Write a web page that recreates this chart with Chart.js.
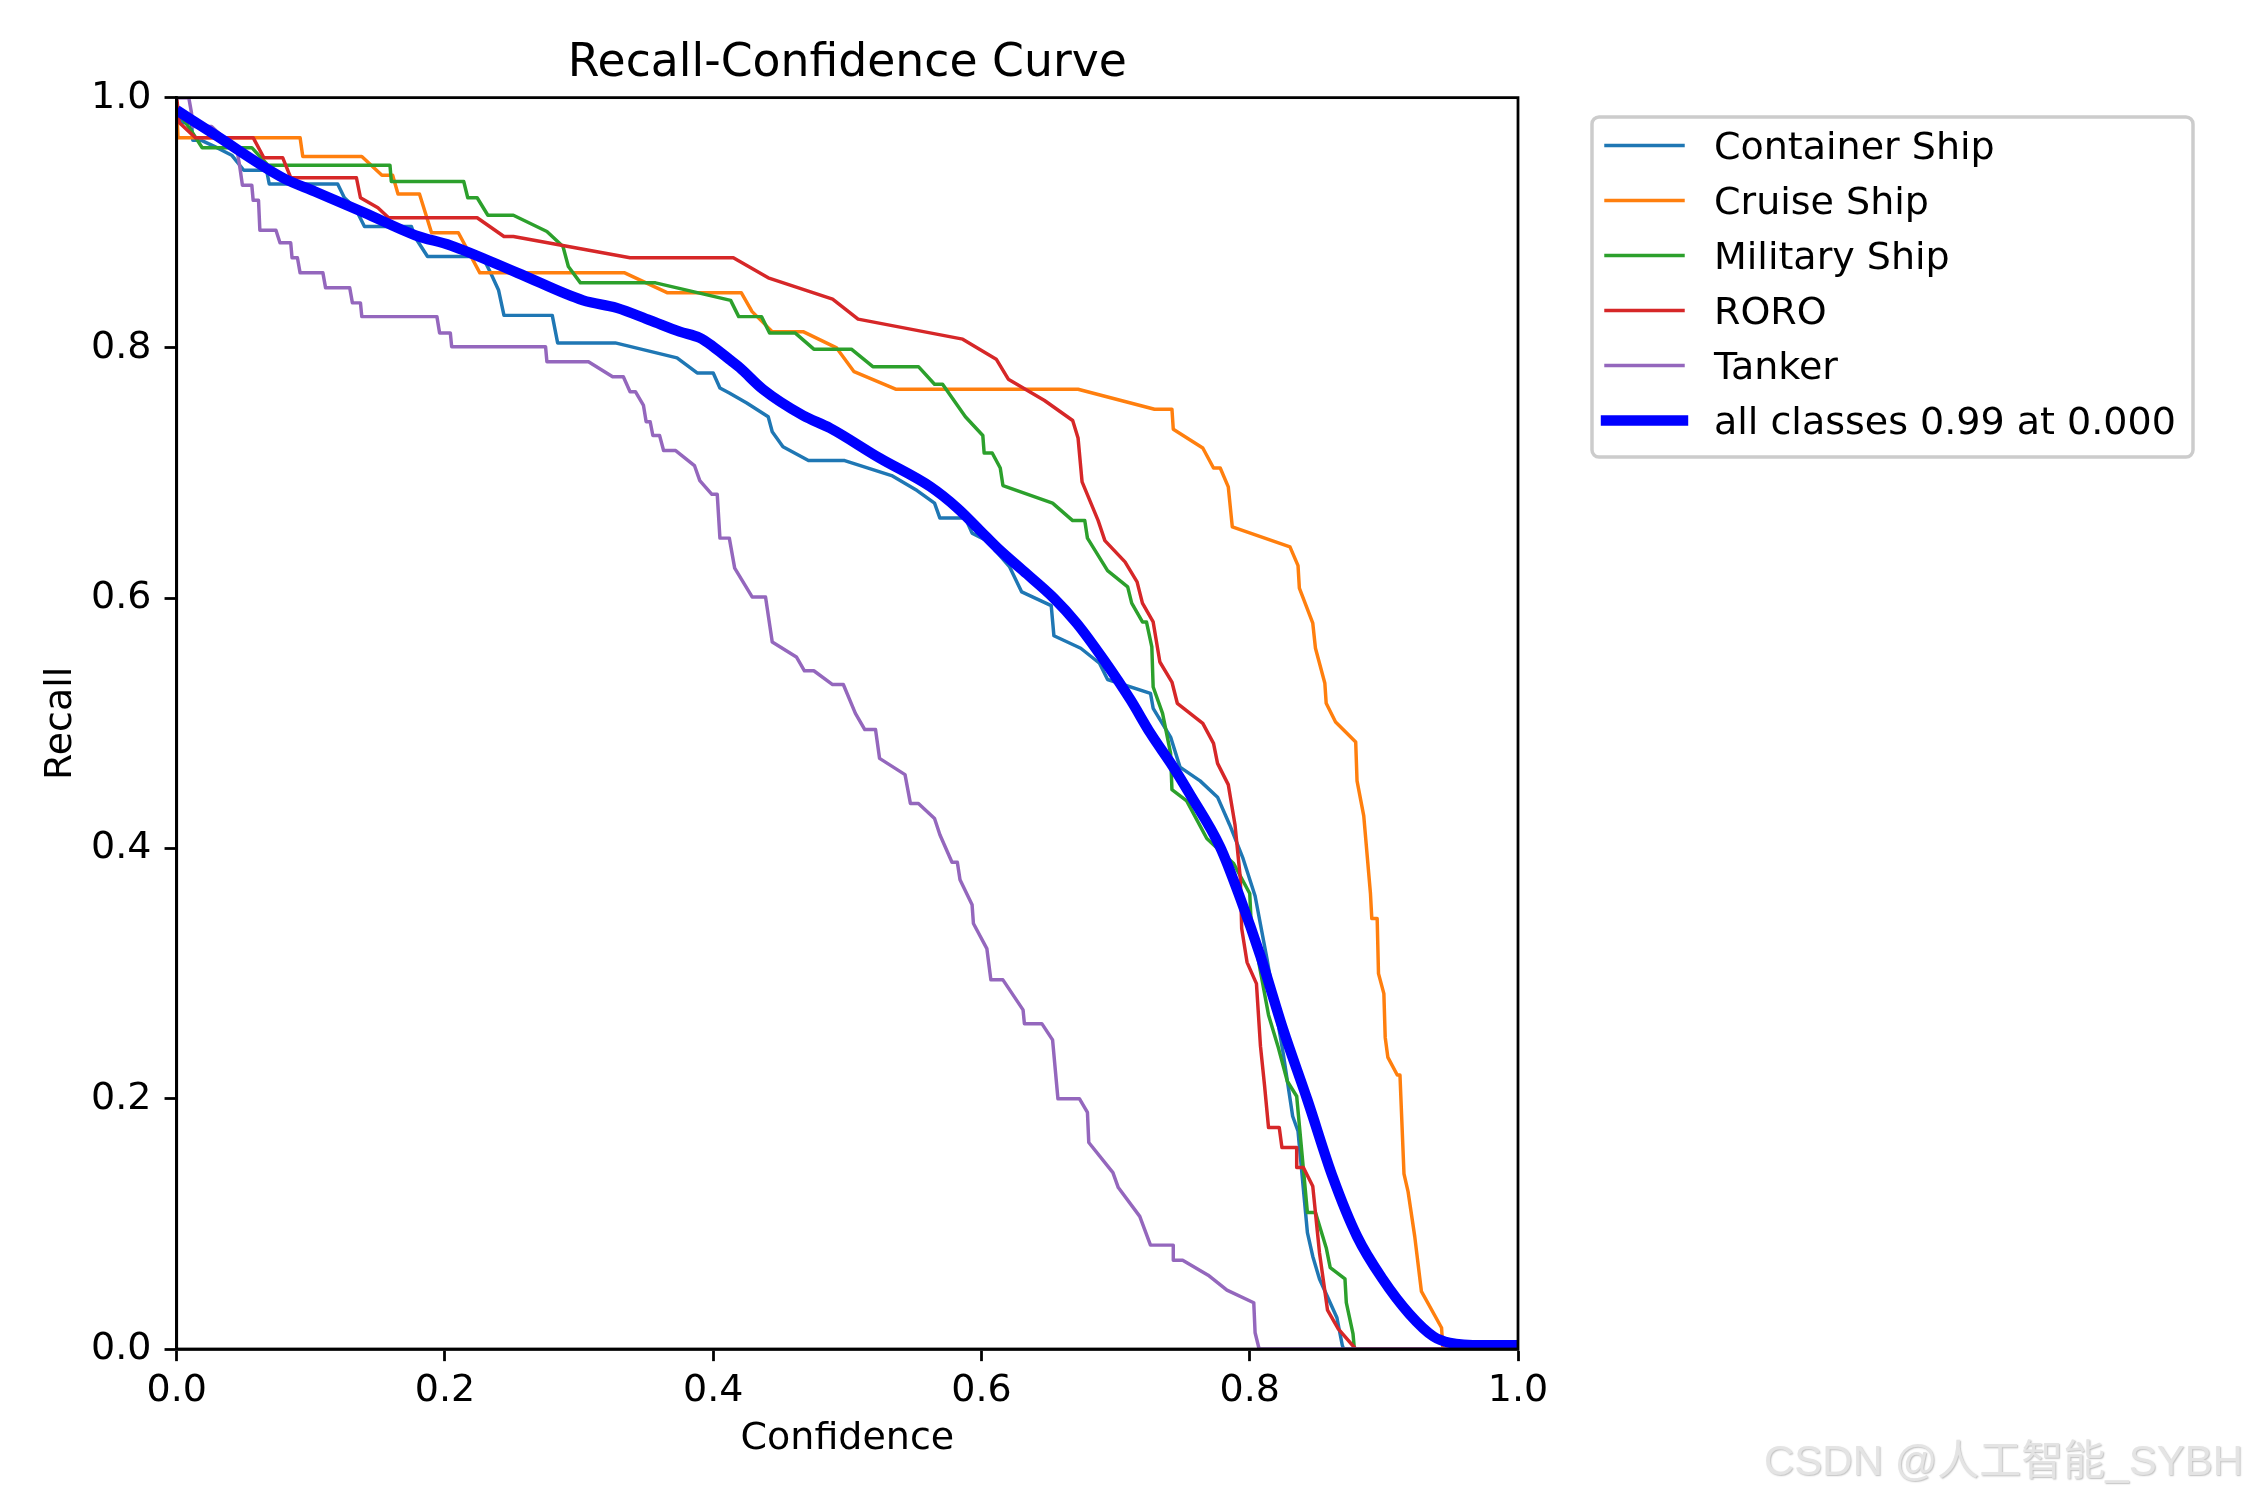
<!DOCTYPE html>
<html>
<head>
<meta charset="utf-8">
<title>Recall-Confidence Curve</title>
<script src="https://cdn.jsdelivr.net/npm/chart.js@4.4.1/dist/chart.umd.min.js"></script>
<style>
  html, body { margin: 0; padding: 0; background: #fff; }
  canvas { display: block; }
</style>
</head>
<body>
<canvas id="rcChart" width="2250" height="1500"></canvas>
<script>
// curves as [confidence, recall] pairs
const containerShip = [[0,0.99],[0.004,0.98],[0.011,0.98],[0.012,0.966],[0.018,0.966],[0.03,0.96],[0.041,0.954],[0.05,0.942],[0.067,0.942],[0.069,0.931],[0.12,0.931],[0.125,0.92],[0.133,0.912],[0.14,0.897],[0.175,0.897],[0.178,0.888],[0.187,0.873],[0.228,0.873],[0.234,0.86],[0.24,0.846],[0.244,0.826],[0.28,0.826],[0.284,0.804],[0.327,0.804],[0.373,0.792],[0.388,0.78],[0.4,0.78],[0.405,0.768],[0.412,0.764],[0.425,0.756],[0.441,0.745],[0.444,0.733],[0.452,0.721],[0.471,0.71],[0.498,0.71],[0.533,0.698],[0.552,0.686],[0.565,0.676],[0.569,0.664],[0.588,0.664],[0.593,0.652],[0.604,0.646],[0.621,0.625],[0.63,0.605],[0.652,0.594],[0.654,0.57],[0.674,0.56],[0.688,0.548],[0.694,0.535],[0.726,0.524],[0.728,0.512],[0.741,0.489],[0.748,0.465],[0.763,0.454],[0.776,0.441],[0.785,0.419],[0.795,0.392],[0.804,0.362],[0.813,0.311],[0.825,0.236],[0.832,0.186],[0.836,0.174],[0.843,0.093],[0.847,0.074],[0.852,0.056],[0.865,0.025],[0.869,0.003],[0.87,0],[1,0]];

const cruiseShip = [[0,0.99],[0.001,0.968],[0.092,0.968],[0.094,0.953],[0.138,0.953],[0.153,0.938],[0.161,0.938],[0.165,0.923],[0.181,0.923],[0.19,0.892],[0.21,0.892],[0.226,0.86],[0.334,0.86],[0.366,0.844],[0.421,0.844],[0.429,0.829],[0.444,0.813],[0.467,0.813],[0.492,0.8],[0.505,0.781],[0.536,0.767],[0.672,0.767],[0.729,0.751],[0.742,0.751],[0.743,0.735],[0.765,0.72],[0.773,0.704],[0.778,0.704],[0.784,0.689],[0.787,0.657],[0.83,0.641],[0.836,0.626],[0.837,0.608],[0.847,0.58],[0.849,0.56],[0.856,0.532],[0.857,0.516],[0.864,0.501],[0.879,0.485],[0.88,0.454],[0.885,0.426],[0.89,0.364],[0.891,0.344],[0.895,0.344],[0.896,0.3],[0.9,0.284],[0.901,0.249],[0.903,0.233],[0.91,0.219],[0.912,0.219],[0.915,0.14],[0.918,0.126],[0.923,0.09],[0.928,0.046],[0.943,0.017],[0.944,0],[1,0]];

const militaryShip = [[0,0.99],[0.01,0.975],[0.019,0.96],[0.056,0.96],[0.068,0.946],[0.159,0.946],[0.16,0.933],[0.214,0.933],[0.217,0.92],[0.224,0.92],[0.232,0.906],[0.251,0.906],[0.276,0.893],[0.288,0.881],[0.292,0.865],[0.301,0.852],[0.357,0.852],[0.413,0.838],[0.419,0.825],[0.436,0.825],[0.442,0.812],[0.461,0.812],[0.475,0.799],[0.503,0.799],[0.519,0.785],[0.553,0.785],[0.565,0.771],[0.571,0.771],[0.588,0.745],[0.601,0.73],[0.602,0.716],[0.608,0.716],[0.614,0.704],[0.616,0.69],[0.653,0.676],[0.668,0.662],[0.677,0.662],[0.679,0.648],[0.694,0.622],[0.709,0.609],[0.712,0.596],[0.72,0.581],[0.723,0.581],[0.727,0.561],[0.728,0.529],[0.735,0.508],[0.741,0.476],[0.742,0.447],[0.753,0.438],[0.768,0.408],[0.773,0.403],[0.788,0.388],[0.8,0.364],[0.801,0.342],[0.814,0.267],[0.821,0.242],[0.828,0.214],[0.835,0.202],[0.843,0.109],[0.849,0.109],[0.857,0.081],[0.86,0.065],[0.871,0.056],[0.872,0.037],[0.877,0.012],[0.878,0],[1,0]];

const roro = [[0,1],[0.002,0.98],[0.014,0.968],[0.057,0.968],[0.065,0.952],[0.079,0.952],[0.085,0.936],[0.134,0.936],[0.137,0.92],[0.15,0.912],[0.158,0.904],[0.224,0.904],[0.244,0.889],[0.251,0.889],[0.338,0.872],[0.415,0.872],[0.441,0.856],[0.489,0.839],[0.508,0.823],[0.586,0.807],[0.611,0.791],[0.62,0.775],[0.647,0.758],[0.668,0.742],[0.672,0.728],[0.675,0.693],[0.687,0.662],[0.692,0.646],[0.707,0.629],[0.716,0.613],[0.72,0.596],[0.728,0.581],[0.733,0.549],[0.742,0.533],[0.746,0.516],[0.765,0.5],[0.773,0.484],[0.776,0.468],[0.784,0.451],[0.789,0.419],[0.793,0.376],[0.794,0.336],[0.798,0.309],[0.805,0.292],[0.808,0.242],[0.811,0.211],[0.814,0.177],[0.822,0.177],[0.824,0.161],[0.835,0.161],[0.835,0.145],[0.84,0.145],[0.847,0.13],[0.852,0.077],[0.858,0.031],[0.866,0.016],[0.879,0],[1,0]];

const tanker = [[0,1],[0.009,1],[0.011,0.988],[0.012,0.977],[0.026,0.977],[0.045,0.958],[0.047,0.945],[0.049,0.93],[0.056,0.93],[0.057,0.918],[0.061,0.918],[0.062,0.894],[0.074,0.894],[0.077,0.884],[0.085,0.884],[0.086,0.872],[0.09,0.872],[0.092,0.86],[0.109,0.86],[0.111,0.848],[0.129,0.848],[0.131,0.836],[0.137,0.836],[0.138,0.825],[0.194,0.825],[0.196,0.812],[0.204,0.812],[0.205,0.801],[0.275,0.801],[0.276,0.789],[0.307,0.789],[0.325,0.777],[0.333,0.777],[0.338,0.765],[0.342,0.765],[0.348,0.754],[0.35,0.741],[0.353,0.741],[0.355,0.73],[0.36,0.73],[0.363,0.718],[0.372,0.718],[0.386,0.706],[0.39,0.694],[0.399,0.683],[0.403,0.683],[0.405,0.648],[0.412,0.648],[0.416,0.624],[0.429,0.601],[0.439,0.601],[0.444,0.565],[0.462,0.553],[0.468,0.542],[0.475,0.542],[0.489,0.531],[0.497,0.531],[0.506,0.508],[0.513,0.495],[0.521,0.495],[0.524,0.472],[0.543,0.459],[0.547,0.436],[0.553,0.436],[0.565,0.424],[0.569,0.411],[0.578,0.389],[0.582,0.389],[0.584,0.375],[0.593,0.355],[0.594,0.34],[0.604,0.32],[0.607,0.295],[0.616,0.295],[0.631,0.271],[0.632,0.26],[0.645,0.26],[0.653,0.247],[0.657,0.2],[0.673,0.2],[0.679,0.189],[0.68,0.165],[0.698,0.141],[0.702,0.129],[0.718,0.106],[0.726,0.083],[0.743,0.083],[0.743,0.071],[0.75,0.071],[0.769,0.059],[0.783,0.047],[0.803,0.037],[0.804,0.013],[0.807,0],[1,0]];

const allClasses = [[0,0.99],[0.029,0.97],[0.079,0.936],[0.103,0.925],[0.14,0.908],[0.178,0.89],[0.204,0.882],[0.254,0.86],[0.303,0.838],[0.328,0.832],[0.353,0.822],[0.375,0.813],[0.39,0.808],[0.4,0.801],[0.413,0.79],[0.42,0.784],[0.437,0.767],[0.467,0.746],[0.487,0.736],[0.524,0.712],[0.562,0.689],[0.582,0.672],[0.599,0.654],[0.612,0.64],[0.631,0.622],[0.654,0.6],[0.671,0.58],[0.691,0.551],[0.711,0.519],[0.726,0.492],[0.743,0.465],[0.755,0.444],[0.778,0.401],[0.793,0.36],[0.808,0.314],[0.825,0.255],[0.843,0.199],[0.862,0.137],[0.88,0.09],[0.899,0.056],[0.919,0.028],[0.937,0.01],[0.949,0.005],[0.974,0.003],[1,0.003]];

const classNames = ['Container Ship', 'Cruise Ship', 'Military Ship', 'RORO', 'Tanker'];
const allClassesLabel = 'all classes 0.99 at 0.000';
const classColors = ['#1f77b4', '#ff7f0e', '#2ca02c', '#d62728', '#9467bd'];

const pt = 250 / 72;          // matplotlib points -> pixels
const fontFamily = "'DejaVu Sans', sans-serif";
const fontSize = 38;

Chart.defaults.font.family = fontFamily;
Chart.defaults.color = '#000';

function makeSeries(label, points, color, width, order) {
    return {
        label: label,
        data: points.map(p => ({x: p[0], y: p[1]})),
        borderColor: color,
        backgroundColor: color,
        borderWidth: width,
        pointRadius: 0,
        pointHoverRadius: 0,
        fill: false,
        tension: 0,
        clip: 0,
        borderJoinStyle: 'round',
        order: order
    };
}

const classSeries = [containerShip, cruiseShip, militaryShip, roro, tanker];
const datasets = classSeries.map((pts, i) => makeSeries(classNames[i], pts, classColors[i], 1 * pt, 5 - i));
const allDs = makeSeries(allClassesLabel, allClasses, '#0000ff', 3 * pt, 0);
allDs.cubicInterpolationMode = 'monotone';
datasets.push(allDs);

// box round the axes (matplotlib spines)
const framePlugin = {
    id: 'frame',
    afterDatasetsDraw(chart) {
        const {ctx, chartArea: a} = chart;
        ctx.save();
        ctx.strokeStyle = '#000';
        ctx.lineWidth = 0.8 * pt;
        ctx.strokeRect(a.left, a.top, a.right - a.left, a.bottom - a.top);
        ctx.restore();
    }
};

// matplotlib style legend outside the axes + watermark
const sideLegendPlugin = {
    id: 'sideLegend',
    afterDraw(chart) {
        const ctx = chart.ctx;
        const x0 = 1592, y0 = 117, w = 601, h = 340, r = 7;
        ctx.save();
        ctx.beginPath();
        ctx.moveTo(x0 + r, y0);
        ctx.lineTo(x0 + w - r, y0);
        ctx.arcTo(x0 + w, y0, x0 + w, y0 + r, r);
        ctx.lineTo(x0 + w, y0 + h - r);
        ctx.arcTo(x0 + w, y0 + h, x0 + w - r, y0 + h, r);
        ctx.lineTo(x0 + r, y0 + h);
        ctx.arcTo(x0, y0 + h, x0, y0 + h - r, r);
        ctx.lineTo(x0, y0 + r);
        ctx.arcTo(x0, y0, x0 + r, y0, r);
        ctx.closePath();
        ctx.fillStyle = 'rgba(255,255,255,0.8)';
        ctx.fill();
        ctx.strokeStyle = '#cccccc';
        ctx.lineWidth = 1 * pt;
        ctx.stroke();

        ctx.font = fontSize + 'px ' + fontFamily;
        ctx.textAlign = 'left';
        ctx.textBaseline = 'alphabetic';
        chart.data.datasets.forEach((ds, i) => {
            const y = 145.5 + i * 55;
            ctx.beginPath();
            ctx.strokeStyle = ds.borderColor;
            ctx.lineWidth = ds.borderWidth;
            ctx.lineCap = 'square';
            ctx.moveTo(1606, y);
            ctx.lineTo(1683, y);
            ctx.stroke();
            ctx.fillStyle = '#000';
            ctx.fillText(ds.label, 1714, y + 13.9);
        });

        ctx.font = "42px 'Liberation Sans', 'Noto Sans CJK SC', sans-serif";
        ctx.textAlign = 'right';
        ctx.shadowColor = 'rgba(0,0,0,0.25)';
        ctx.shadowOffsetX = 1;
        ctx.shadowOffsetY = 1;
        ctx.shadowBlur = 1.5;
        ctx.fillStyle = '#e4e4e4';
        ctx.fillText('CSDN @人工智能_SYBH', 2243, 1475);
        ctx.restore();
    }
};

const axisCommon = {
    type: 'linear',
    min: 0,
    max: 1,
    grid: {
        drawOnChartArea: false,
        drawTicks: true,
        tickLength: 3.5 * pt,
        tickWidth: 0.8 * pt,
        tickColor: '#000'
    },
    border: { display: true, color: '#000', width: 0.8 * pt }
};

const ctx = document.getElementById('rcChart');
const rcChart = new Chart(ctx, {
    type: 'line',
    data: { datasets: datasets },
    options: {
        responsive: false,
        animation: false,
        devicePixelRatio: 1,
        events: [],
        layout: { padding: { left: 0, top: 0, right: 732, bottom: 0 } },
        scales: {
            x: Object.assign({}, axisCommon, {
                position: 'bottom',
                ticks: {
                    stepSize: 0.2,
                    autoSkip: false,
                    maxRotation: 0,
                    padding: 7,
                    font: { size: fontSize },
                    callback: v => v.toFixed(1)
                },
                title: {
                    display: true,
                    text: 'Confidence',
                    font: { size: fontSize },
                    padding: { top: 0, bottom: 38 }
                },
                afterFit: scale => { scale.height = 151; }
            }),
            y: Object.assign({}, axisCommon, {
                position: 'left',
                ticks: {
                    stepSize: 0.2,
                    autoSkip: false,
                    padding: 13,
                    font: { size: fontSize },
                    callback: v => v.toFixed(1)
                },
                title: {
                    display: true,
                    text: 'Recall',
                    font: { size: fontSize },
                    padding: { top: 38, bottom: 0 }
                },
                afterFit: scale => { scale.width = 176.7; }
            })
        },
        plugins: {
            legend: { display: false },
            tooltip: { enabled: false },
            title: {
                display: true,
                text: 'Recall-Confidence Curve',
                fullSize: false,
                color: '#000',
                font: { size: 45.7, weight: 'normal' },
                padding: { top: 37, bottom: 5.8 }
            }
        }
    },
    plugins: [framePlugin, sideLegendPlugin]
});
</script>
</body>
</html>
